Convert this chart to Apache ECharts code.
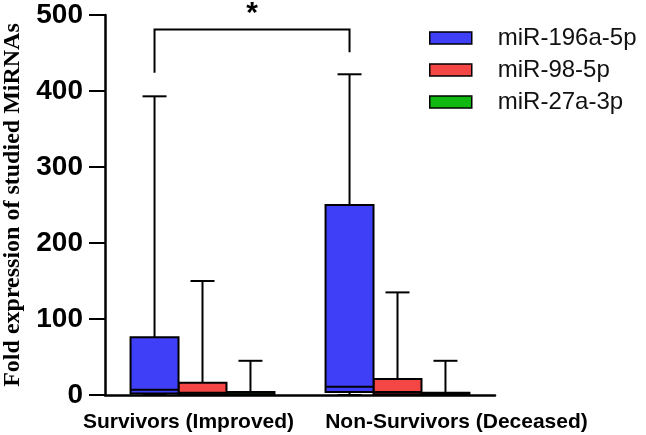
<!DOCTYPE html>
<html>
<head>
<meta charset="utf-8">
<script src="https://cdn.jsdelivr.net/npm/echarts@6/dist/echarts.min.js"></script>
<style>
  html, body { margin: 0; padding: 0; background: #fff; }
  #container { width: 646px; height: 435px; }
</style>
</head>
<body>
<div id="container"></div>
<script>
var groups = ['Survivors (Improved)', 'Non-Survivors (Deceased)'];
var seriesNames = ['miR-196a-5p', 'miR-98-5p', 'miR-27a-3p'];
var seriesColors = ['#3f3ff7', '#f54646', '#12b812'];
// [group, min, q1, median, q3, max]
var mir196 = [[0, 0, 2, 7, 76, 393], [1, 0, 4, 11, 250, 422]];
var mir98 = [[0, 0, 1, 3, 16, 150], [1, 0, 1, 4, 21, 135]];
var mir27 = [[0, 0, 0.5, 1, 4, 45], [1, 0, 0.5, 1, 3, 45]];
// [left group, right group, left end, right end, top]
var bracket = [[0, 1, 424, 451, 481]];
var yTicks = [0, 100, 200, 300, 400, 500];

var dom = document.getElementById('container');
var myChart = echarts.init(dom);

function boxRenderer(slot) {
    return function(params, api) {
        var cat = api.value(0);
        var band = api.size([1, 0])[0];
        var w = band * 0.246;
        var cx = api.coord([cat, 0])[0] + slot * w;
        var yMin = api.coord([cat, api.value(1)])[1];
        var yQ1 = api.coord([cat, api.value(2)])[1];
        var yMed = api.coord([cat, api.value(3)])[1];
        var yQ3 = api.coord([cat, api.value(4)])[1];
        var yMax = api.coord([cat, api.value(5)])[1];
        var line = { stroke: '#000', lineWidth: 2 };
        return {
            type: 'group',
            children: [
                { type: 'line', shape: { x1: cx, y1: yMax, x2: cx, y2: yQ3 }, style: line },
                { type: 'line', shape: { x1: cx - w / 4, y1: yMax, x2: cx + w / 4, y2: yMax }, style: line },
                { type: 'line', shape: { x1: cx, y1: yMin, x2: cx, y2: yQ1 }, style: line },
                { type: 'line', shape: { x1: cx - w / 4, y1: yMin, x2: cx + w / 4, y2: yMin }, style: line },
                { type: 'rect', shape: { x: cx - w / 2, y: yQ3, width: w, height: yQ1 - yQ3 },
                  style: { fill: api.visual('color'), stroke: '#000', lineWidth: 2 } },
                { type: 'line', shape: { x1: cx - w / 2, y1: yMed, x2: cx + w / 2, y2: yMed }, style: line }
            ]
        };
    };
}

function bracketRenderer(params, api) {
    var band = api.size([1, 0])[0];
    var w = band * 0.246;
    var x1 = api.coord([api.value(0), 0])[0] - w;
    var x2 = api.coord([api.value(1), 0])[0] - w;
    var yL = api.coord([0, api.value(2)])[1];
    var yR = api.coord([0, api.value(3)])[1];
    var yT = api.coord([0, api.value(4)])[1];
    return {
        type: 'group',
        children: [
            { type: 'polyline', shape: { points: [[x1, yL], [x1, yT], [x2, yT], [x2, yR]] },
              style: { stroke: '#000', lineWidth: 2, fill: null } },
            { type: 'text', x: (x1 + x2) / 2, y: yT - 16,
              style: { text: '*', fontSize: 30, fontWeight: 'bold', fontFamily: 'Liberation Sans',
                       fill: '#000', align: 'center', verticalAlign: 'middle' } }
        ]
    };
}

var seriesData = [mir196, mir98, mir27];
var series = seriesNames.map(function(name, i) {
    return {
        name: name,
        type: 'custom',
        renderItem: boxRenderer(i - 1),
        itemStyle: { color: seriesColors[i] },
        encode: { x: 0, y: [1, 2, 3, 4, 5] },
        data: seriesData[i],
        z: 3 - i
    };
});
series.push({
    name: 'sig',
    type: 'custom',
    renderItem: bracketRenderer,
    encode: { x: 0, y: [2, 3, 4] },
    data: bracket,
    clip: false,
    silent: true
});

var option = {
    backgroundColor: '#fff',
    animation: false,
    grid: { left: 105, right: 151, top: 15, bottom: 40, containLabel: false, outerBoundsMode: 'none' },
    legend: {
        data: seriesNames,
        orient: 'vertical',
        left: 429,
        top: 26,
        padding: 0,
        icon: 'rect',
        itemWidth: 42,
        itemHeight: 12,
        itemGap: 8,
        itemStyle: { borderColor: '#000', borderWidth: 1.5 },
        textStyle: { fontSize: 24, fontFamily: 'Liberation Sans', color: '#111', padding: [0, 0, 0, 21] }
    },
    xAxis: {
        type: 'category',
        data: [
            { value: groups[0], textStyle: { padding: [0, 28, 0, 0] } },
            { value: groups[1], textStyle: { padding: [0, 0, 0, 118] } }
        ],
        axisLine: { lineStyle: { color: '#000', width: 2.5 } },
        axisTick: { show: false },
        axisLabel: { color: '#000', fontSize: 21, fontWeight: 'bold', fontFamily: 'Liberation Sans', margin: 17, interval: 0 },
        splitLine: { show: false }
    },
    yAxis: {
        type: 'value',
        min: yTicks[0],
        max: yTicks[yTicks.length - 1],
        interval: 100,
        name: 'Fold expression of studied MiRNAs',
        nameLocation: 'middle',
        nameGap: 80,
        nameTextStyle: { fontSize: 24, fontWeight: 'bold', fontFamily: 'Liberation Serif', color: '#000' },
        axisLine: { show: true, lineStyle: { color: '#000', width: 2.5 } },
        axisTick: { show: true, length: 16, lineStyle: { color: '#000', width: 2 } },
        axisLabel: { color: '#000', fontSize: 28, fontWeight: 'bold', fontFamily: 'Liberation Sans', margin: 22 },
        splitLine: { show: false }
    },
    series: series
};

if (option && typeof option === "object") {
    myChart.setOption(option, true);
}
</script>
</body>
</html>
